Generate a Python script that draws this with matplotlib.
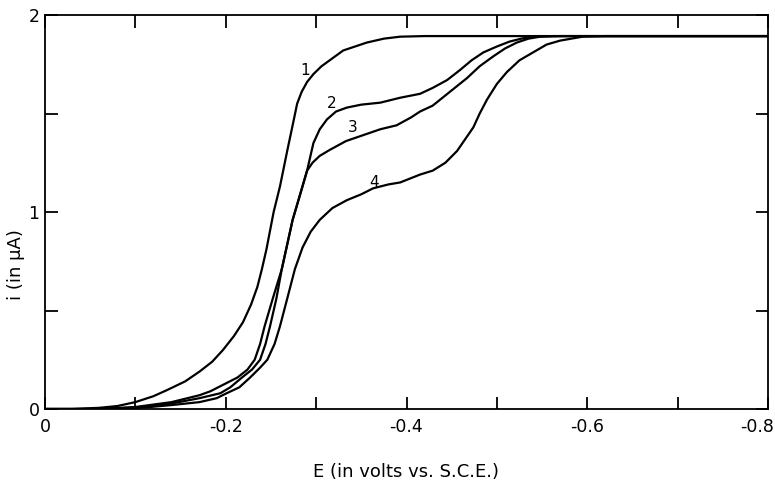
import matplotlib
matplotlib.use("Agg")
import matplotlib.pyplot as plt
import matplotlib.transforms as mtransforms

# polarographic waves, E in volts vs. S.C.E., i in microamps
e_1 = [0, -0.03, -0.06, -0.08, -0.10, -0.12, -0.135, -0.155, -0.171, -0.185, -0.197,
       -0.209, -0.219, -0.228, -0.235, -0.240, -0.245, -0.253, -0.260, -0.268, -0.274,
       -0.279, -0.284, -0.290, -0.297, -0.306, -0.315, -0.330, -0.356, -0.375, -0.393,
       -0.42, -0.8]
i_1 = [0, 0, 0.006, 0.015, 0.035, 0.065, 0.096, 0.14, 0.19, 0.24, 0.30,
       0.37, 0.44, 0.53, 0.62, 0.71, 0.81, 1.0, 1.13, 1.31, 1.44,
       1.55, 1.61, 1.66, 1.70, 1.74, 1.77, 1.82, 1.86, 1.88, 1.89,
       1.893, 1.893]

e_2 = [0, -0.04, -0.07, -0.10, -0.116, -0.14, -0.171, -0.183, -0.198, -0.213, -0.224,
       -0.232, -0.238, -0.243, -0.252, -0.262, -0.274, -0.283, -0.290, -0.297, -0.304,
       -0.312, -0.322, -0.334, -0.350, -0.371, -0.393, -0.415, -0.429, -0.445, -0.459,
       -0.472, -0.485, -0.500, -0.514, -0.527, -0.540, -0.56, -0.8]
i_2 = [0, 0, 0.003, 0.01, 0.02, 0.035, 0.07, 0.09, 0.125, 0.16, 0.20,
       0.25, 0.33, 0.42, 0.56, 0.71, 0.96, 1.10, 1.21, 1.35, 1.42,
       1.47, 1.51, 1.53, 1.545, 1.555, 1.58, 1.60, 1.63, 1.67, 1.72,
       1.77, 1.81, 1.84, 1.865, 1.88, 1.89, 1.893, 1.893]

e_3 = [0, -0.05, -0.08, -0.10, -0.116, -0.14, -0.171, -0.194, -0.205, -0.218, -0.229,
       -0.238, -0.244, -0.249, -0.256, -0.262, -0.274, -0.283, -0.290, -0.296, -0.304,
       -0.315, -0.333, -0.352, -0.371, -0.389, -0.405, -0.415, -0.429, -0.448, -0.467,
       -0.481, -0.496, -0.509, -0.522, -0.535, -0.548, -0.57, -0.8]
i_3 = [0, 0, 0.003, 0.008, 0.015, 0.028, 0.055, 0.08, 0.11, 0.16, 0.20,
       0.25, 0.33, 0.42, 0.56, 0.71, 0.96, 1.10, 1.21, 1.25, 1.285,
       1.315, 1.36, 1.39, 1.42, 1.44, 1.48, 1.51, 1.54, 1.61, 1.68,
       1.74, 1.79, 1.83, 1.86, 1.88, 1.89, 1.893, 1.893]

e_4 = [0, -0.06, -0.09, -0.116, -0.14, -0.171, -0.19, -0.201, -0.215, -0.227, -0.238,
       -0.246, -0.254, -0.260, -0.268, -0.2765, -0.285, -0.294, -0.304, -0.318, -0.334,
       -0.350, -0.363, -0.380, -0.393, -0.415, -0.429, -0.443, -0.456, -0.465, -0.474,
       -0.481, -0.489, -0.500, -0.511, -0.525, -0.540, -0.555, -0.570, -0.595, -0.62, -0.8]
i_4 = [0, 0, 0.003, 0.01, 0.02, 0.035, 0.055, 0.08, 0.11, 0.16, 0.21,
       0.25, 0.33, 0.42, 0.56, 0.71, 0.82, 0.90, 0.96, 1.02, 1.06,
       1.09, 1.12, 1.14, 1.15, 1.19, 1.21, 1.25, 1.31, 1.37, 1.43,
       1.50, 1.57, 1.65, 1.71, 1.77, 1.81, 1.85, 1.87, 1.89, 1.893, 1.893]

curve_labels = ["1", "2", "3", "4"]
label_e = [-0.288, -0.317, -0.340, -0.364]
label_i = [1.72, 1.55, 1.43, 1.15]

x_ticks = [0, -0.1, -0.2, -0.3, -0.4, -0.5, -0.6, -0.7, -0.8]
x_ticklabels = ["0", "", "-0.2", "", "-0.4", "", "-0.6", "", "-0.8"]
y_ticks = [0, 0.5, 1, 1.5, 2]
y_ticklabels = ["0", "", "1", "", "2"]

fig = plt.figure(figsize=(7.75, 4.84), dpi=100)
ax = fig.add_axes([45 / 775, 1 - 409 / 484, 723 / 775, 394 / 484])

for e, i in [(e_1, i_1), (e_2, i_2), (e_3, i_3), (e_4, i_4)]:
    ax.plot(e, i, color="black", lw=1.6, solid_capstyle="round",
            solid_joinstyle="round")

for lab, x, y in zip(curve_labels, label_e, label_i):
    ax.text(x, y, lab, fontsize=11, ha="center", va="center")

ax.set_xlim(0, -0.8)
ax.set_ylim(0, 2)
ax.set_xticks(x_ticks)
ax.set_xticklabels(x_ticklabels)
ax.set_yticks(y_ticks)
ax.set_yticklabels(y_ticklabels)
ax.tick_params(direction="in", length=9, width=1.3, labelsize=12.5,
               top=True, right=True)
ax.tick_params(axis="x", pad=6.5)
ax.tick_params(axis="y", pad=4)
for s in ax.spines.values():
    s.set_linewidth(1.3)

# last x label sits flush with the right edge, as in the original
last = ax.get_xticklabels()[-1]
last.set_horizontalalignment("right")
last.set_transform(last.get_transform() +
                   mtransforms.ScaledTranslation(6 / 100, 0, fig.dpi_scale_trans))

fig.text(406 / 775, 1 - 472 / 484, "E (in volts vs. S.C.E.)", fontsize=13,
         ha="center", va="center")
fig.text(16 / 775, 1 - 265 / 484, "i (in \u03bcA)", fontsize=13, rotation=90,
         ha="center", va="center")

fig.savefig("out.png", dpi=100)
